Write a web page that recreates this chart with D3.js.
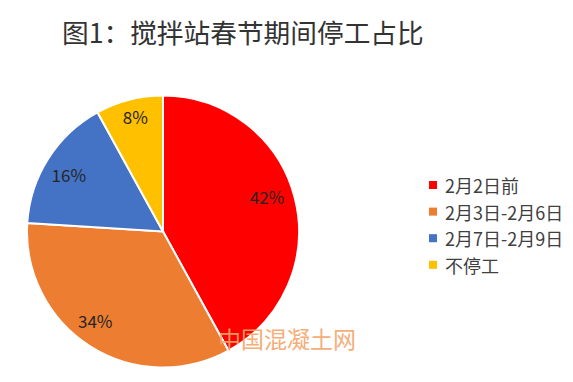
<!DOCTYPE html>
<html><head><meta charset="utf-8">
<script src="https://cdn.jsdelivr.net/npm/d3@7"></script>
<style>body{margin:0;background:#fff;}svg{display:block;}text{font-family:"Noto Sans CJK SC","Noto Sans",sans-serif;}</style>
</head><body>
<svg id="c" width="573" height="382"></svg>
<script>
const categories = ["2月2日前","2月3日-2月6日","2月7日-2月9日","不停工"];
const values = [42, 34, 16, 8];
const colors = ["#FF0000","#ED7D31","#4472C4","#FFC000"];
const labelOffsets = [[-4,-7],[-8,-5.5],[0,3],[0,-6.5]];

const svg = d3.select("#c");
const W = 573, H = 382;
svg.append("rect").attr("width",W).attr("height",H).attr("fill","#fff");

svg.append("text").attr("x",62).attr("y",43).attr("font-size",26.7).attr("fill","#333")
  .text("图1：搅拌站春节期间停工占比");

const cx = 163, cy = 231.5, r = 136;
const pie = d3.pie().sort(null).value(d=>d)(values);
const arc = d3.arc().innerRadius(0).outerRadius(r);
const g = svg.append("g").attr("transform",`translate(${cx},${cy})`);
g.selectAll("path").data(pie).join("path")
  .attr("d",arc).attr("fill",(d,i)=>colors[i]).attr("stroke","#fff").attr("stroke-width",2);

const labelArc = d3.arc().innerRadius(r*0.82).outerRadius(r*0.82);
g.selectAll("text.lbl").data(pie).join("text").attr("class","lbl")
  .attr("transform",(d,i)=>{const c=labelArc.centroid(d);return `translate(${c[0]+labelOffsets[i][0]},${c[1]+labelOffsets[i][1]})`;})
  .attr("text-anchor","middle").attr("dominant-baseline","central")
  .attr("font-size",17).attr("fill","#262626")
  .text(d=>d.data+"%");

const lg = svg.append("g").attr("transform","translate(429,185)");
const items = lg.selectAll("g").data(categories).join("g")
  .attr("transform",(d,i)=>`translate(0,${i*26.6})`);
items.append("rect").attr("x",0).attr("y",-4).attr("width",8).attr("height",8)
  .attr("fill",(d,i)=>colors[i]);
items.append("text").attr("x",16).attr("y",0).attr("dominant-baseline","central")
  .attr("font-size",18).attr("fill","#404040").text(d=>d);

svg.append("text").attr("x",218).attr("y",348).attr("font-size",23)
  .attr("fill","#F5A66A").attr("opacity",0.9).text("中国混凝土网");
</script>
</body></html>
